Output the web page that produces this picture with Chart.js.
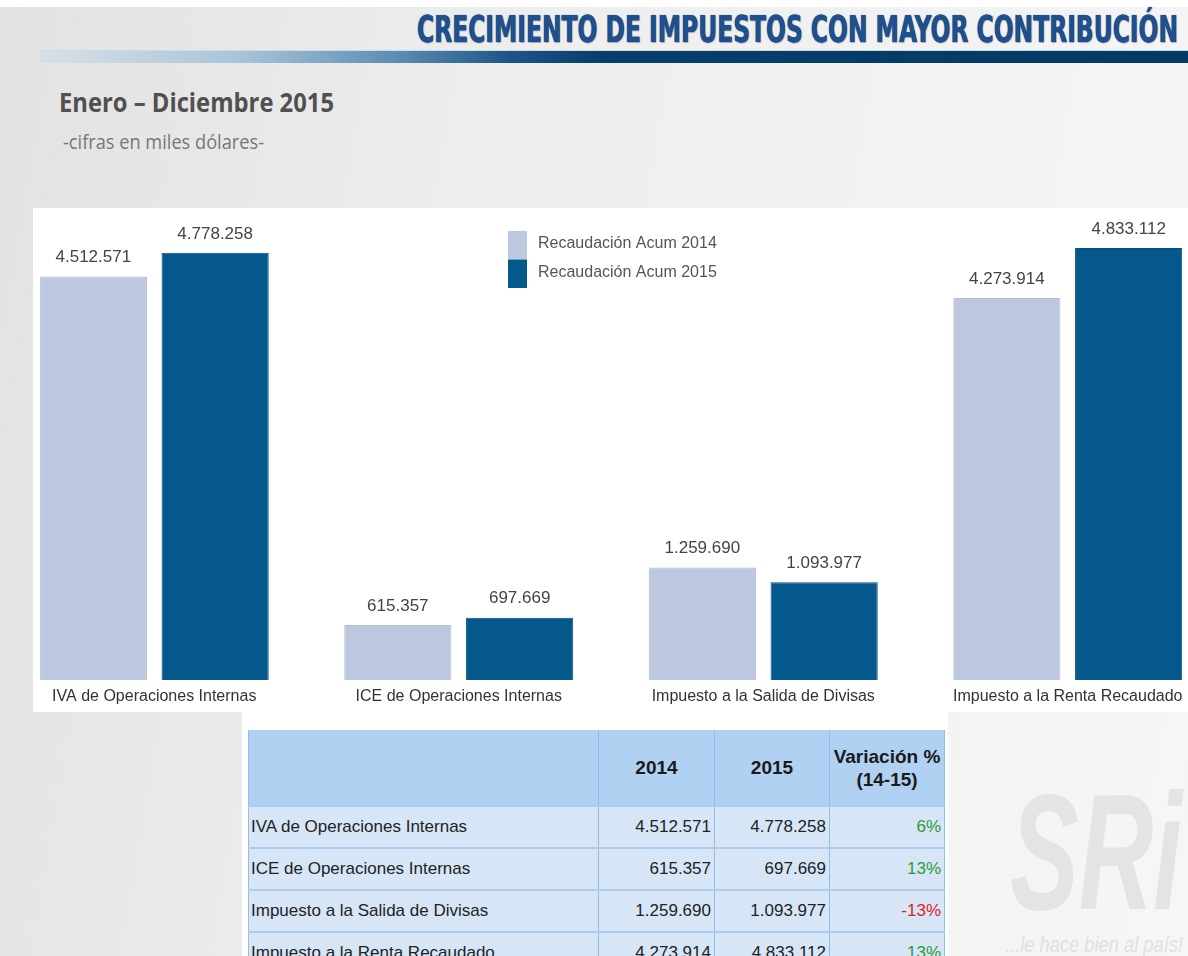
<!DOCTYPE html>
<html>
<head>
<meta charset="utf-8">
<script src="https://cdn.jsdelivr.net/npm/chart.js@4"></script>
<style>
  html, body { margin: 0; padding: 0; }
  body {
    width: 1188px; height: 956px; overflow: hidden; position: relative;
    background: linear-gradient(100deg, #e2e2e2 0%, #eeeeee 40%, #f6f6f6 100%);
    font-family: "Liberation Sans", Arial, sans-serif;
  }
  #topwhite { position: absolute; left: 0; top: 0; width: 1188px; height: 7px; background: #fff; }
  #bar {
    position: absolute; left: 40px; top: 50px; width: 1148px; height: 12px;
    background: linear-gradient(90deg, rgba(200,218,232,0.4) 0px, #a9c4d8 200px, #5a8cb3 360px, #1d5585 470px, #063f6c 560px, #043a66 1148px);
    border-top: 1px solid #c8dbe9;
  }
  #title {
    position: absolute; left: 417px; top: 8px; white-space: nowrap;
    font-family: "Liberation Sans Narrow", "DejaVu Sans Condensed", sans-serif;
    font-weight: bold; font-size: 37px; color: #1e4f8f; transform-origin: 0 0;
    text-shadow: 0 0 1px #0d2d58, 1px 1px 1px rgba(0,0,0,0.25);
  }
  #sub1 {
    position: absolute; left: 59px; top: 83px; white-space: nowrap;
    font-family: "Open Sans", sans-serif; font-weight: bold; font-size: 27px; color: #505050;
    transform-origin: 0 0;
  }
  #sub2 {
    position: absolute; left: 63px; top: 128px; white-space: nowrap;
    font-family: "Open Sans", sans-serif; font-size: 20px; color: #777;
    transform-origin: 0 0;
  }
  #panel { position: absolute; left: 33px; top: 208px; width: 1155px; height: 504px; background: #fff; }
  #wrap { position: absolute; left: 0; top: 208px; width: 1220px; height: 504px; }
  #tpanel { position: absolute; left: 242px; top: 712px; width: 706px; height: 260px; background: #fff; }
  #tbl {
    position: absolute; left: 248px; top: 730px; border-collapse: collapse; table-layout: fixed; width: 692px;
    font-family: "Liberation Sans", sans-serif; font-size: 17px; color: #222;
  }
  #tbl th { background: #b0d1f2; font-weight: bold; font-size: 19px; height: 75px; padding: 0; line-height: 23px;
            border-left: 1px solid #8dbfec; border-right: 1px solid #8dbfec; color: #1a1a1a; white-space: nowrap; }
  #tbl td { background: #d6e6f7; height: 40px; padding: 0 3px; border-top: 2px solid #a9ccf0;
            border-left: 1px solid #8dbfec; border-right: 1px solid #8dbfec; white-space: nowrap; }
  #tbl td.num { text-align: right; }
  #tbl td.lab { text-align: left; padding-left: 2px; }
  #wm1 {
    position: absolute; left: 1010px; top: 770px; font-family: "Liberation Sans", sans-serif;
    font-weight: bold; font-style: italic; font-size: 165px; line-height: 165px; color: #e4e4e4;
    white-space: nowrap; transform-origin: 0 0;
  }
  #wm2 {
    position: absolute; left: 1005px; top: 932px; font-family: "Liberation Sans", sans-serif;
    font-style: italic; font-size: 22px; color: #e0e0e0; white-space: nowrap; transform-origin: 0 0;
  }
</style>
</head>
<body>
<div id="topwhite"></div>
<div id="title" data-w="761">CRECIMIENTO DE IMPUESTOS CON MAYOR CONTRIBUCIÓN</div>
<div id="bar"></div>
<div id="sub1" data-w="275">Enero – Diciembre 2015</div>
<div id="sub2" data-w="201">-cifras en miles dólares-</div>
<div id="wm1" data-w="172">SRi</div>
<div id="wm2" data-w="178">...le hace bien al país!</div>
<div id="panel"></div>
<div id="wrap"><canvas id="c" width="1220" height="504"></canvas></div>
<div id="tpanel"></div>
<table id="tbl"></table>
<script>
const categories = [
  "IVA de Operaciones Internas",
  "ICE de Operaciones Internas",
  "Impuesto a la Salida de Divisas",
  "Impuesto a la Renta Recaudado"
];
const recaudacion2014 = [4512571, 615357, 1259690, 4273914];
const recaudacion2015 = [4778258, 697669, 1093977, 4833112];
const variacion = ["6%", "13%", "-13%", "13%"];
const seriesLabels = ["Recaudación Acum 2014", "Recaudación Acum 2015"];
const tableHeaders = ["", "2014", "2015", "Variación %<br>(14-15)"];

function fmt(v){
  return v.toString().replace(/\B(?=(\d{3})+(?!\d))/g, ".");
}

// fit condensed text to the widths seen in the picture
document.querySelectorAll("[data-w]").forEach(el => {
  let w = el.getBoundingClientRect().width;
  el.style.transform = "scaleX(" + (el.dataset.w / w) + ")";
});

// table
let tbl = document.getElementById("tbl");
let html = "<tr>";
let widths = [349, 115, 114, 114];
tableHeaders.forEach((h, i) => { html += '<th style="width:' + widths[i] + 'px">' + h + "</th>"; });
html += "</tr>";
categories.forEach((cat, i) => {
  let col = variacion[i].startsWith("-") ? "#e0201c" : "#2f9a33";
  html += "<tr><td class='lab'>" + cat + "</td>" +
          "<td class='num'>" + fmt(recaudacion2014[i]) + "</td>" +
          "<td class='num'>" + fmt(recaudacion2015[i]) + "</td>" +
          "<td class='num' style='color:" + col + "'>" + variacion[i] + "</td></tr>";
});
tbl.innerHTML = html;

// value labels, category labels and legend drawn on the canvas
const labelsPlugin = {
  id: "labelsPlugin",
  afterDatasetsDraw(chart){
    let ctx = chart.ctx;
    ctx.save();
    ctx.font = "17px 'Liberation Sans', Arial";
    ctx.fillStyle = "#444";
    ctx.textAlign = "center";
    ctx.textBaseline = "middle";
    chart.data.datasets.forEach((ds, d) => {
      chart.getDatasetMeta(d).data.forEach((bar, i) => {
        ctx.fillText(fmt(ds.data[i]), bar.x, bar.y - 19);
      });
    });
    // categories under the bars
    let xs = chart.scales.x;
    ctx.font = "16px 'Liberation Sans', Arial";
    ctx.fillStyle = "#333";
    chart.data.labels.forEach((lab, i) => {
      ctx.fillText(lab, xs.getPixelForValue(i), chart.chartArea.bottom + 17);
    });
    // legend
    ctx.textAlign = "left";
    chart.data.datasets.forEach((ds, d) => {
      ctx.fillStyle = ds.backgroundColor;
      ctx.fillRect(508, 23 + d * 28.5, 19, 28.5);
      ctx.fillStyle = "#555";
      ctx.fillText(ds.label, 538, 36 + d * 29);
    });
    ctx.restore();
  }
};

new Chart(document.getElementById("c"), {
  type: "bar",
  data: {
    labels: categories,
    datasets: [
      { label: seriesLabels[0], data: recaudacion2014, backgroundColor: "#bcc8e0", borderColor: "#b0bdd8", borderWidth: 1 },
      { label: seriesLabels[1], data: recaudacion2015, backgroundColor: "#04588c", borderColor: "#034f80", borderWidth: 1 }
    ]
  },
  options: {
    responsive: false,
    animation: false,
    devicePixelRatio: 1,
    layout: { padding: { left: 2, right: 0, top: 25, bottom: 32 } },
    datasets: { bar: { categoryPercentage: 0.8, barPercentage: 0.88 } },
    scales: {
      x: { display: false },
      y: { display: false, min: 0, max: 5000000 }
    },
    plugins: { legend: { display: false }, tooltip: { enabled: false } }
  },
  plugins: [labelsPlugin]
});
</script>
</body>
</html>
